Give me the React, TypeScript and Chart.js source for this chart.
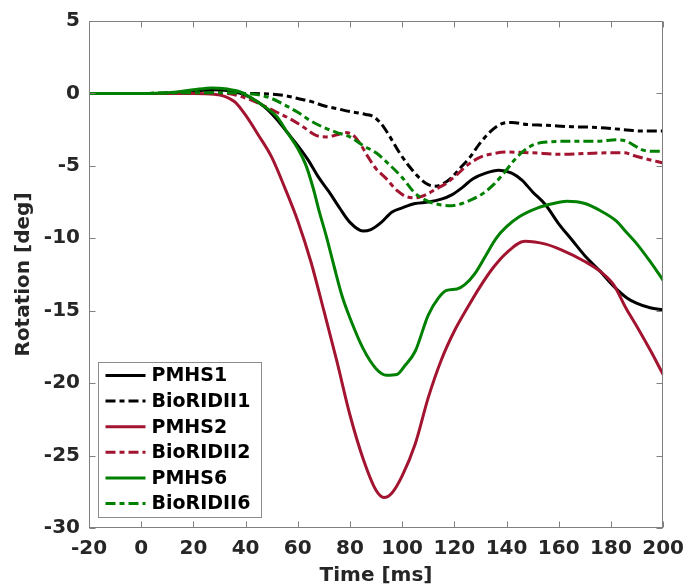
import React, { useEffect, useRef } from "react";
import { Chart, registerables } from "chart.js";

Chart.register(...registerables);

// ---- data ----
const seriesNames = ["PMHS1", "BioRIDII1", "PMHS2", "BioRIDII2", "PMHS6", "BioRIDII6"];

const tPMHS1 = [-20, 0, 10, 20, 27, 33, 38, 42, 47, 52, 56, 60, 64, 68, 72, 76, 80, 85, 88, 92, 96, 100, 105, 110, 115, 119, 123, 127, 132, 137, 142, 146, 150, 155, 160, 165, 170, 176, 181, 186, 190, 195, 200];
const vPMHS1 = [0, 0, 0, 0.15, 0.25, 0.2, 0, -0.3, -0.9, -1.8, -2.7, -3.6, -4.6, -5.8, -6.8, -7.9, -8.9, -9.5, -9.4, -8.9, -8.2, -7.9, -7.6, -7.5, -7.3, -7.0, -6.5, -5.9, -5.5, -5.3, -5.5, -6.0, -6.8, -7.7, -9.0, -10.1, -11.2, -12.3, -13.3, -14.1, -14.5, -14.8, -14.95];

const tBio1 = [-20, 0, 20, 30, 40, 50, 55, 60, 65, 70, 75, 80, 86, 89, 92, 95, 99, 103, 107, 110, 113, 116, 119, 122, 126, 130, 134, 138, 142, 148, 155, 165, 175, 185, 192, 200];
const vBio1 = [0, 0, 0.05, 0.05, 0, -0.05, -0.15, -0.35, -0.55, -0.85, -1.05, -1.25, -1.45, -1.6, -2.1, -2.9, -4.1, -5.1, -5.9, -6.3, -6.4, -6.2, -5.8, -5.2, -4.4, -3.4, -2.6, -2.1, -2.0, -2.15, -2.2, -2.3, -2.35, -2.5, -2.6, -2.6];

const tPMHS2 = [-20, 0, 20, 28, 32, 36, 40, 45, 50, 55, 60, 65, 70, 75, 80, 85, 90, 93, 96, 100, 105, 110, 115, 120, 125, 130, 135, 140, 147, 155, 161, 170, 176, 181, 186, 190, 195, 200];
const vPMHS2 = [0, 0, 0, -0.05, -0.2, -0.6, -1.5, -2.9, -4.4, -6.5, -8.8, -11.6, -15, -18.5, -22.2, -25.2, -27.4, -27.9, -27.6, -26.4, -24.2, -21, -18.4, -16.4, -14.8, -13.3, -12, -11, -10.2, -10.4, -10.8, -11.6, -12.3, -13.2, -14.9, -16.1, -17.7, -19.4];

const tBio2 = [-20, 0, 20, 30, 35, 38, 42, 47, 52, 57, 62, 67, 71, 75, 78, 81, 84, 87, 90, 94, 98, 102, 105, 109, 113, 117, 121, 125, 130, 135, 140, 150, 160, 170, 180, 185, 189, 193, 200];
const vBio2 = [0, 0, 0, 0, -0.05, -0.2, -0.45, -0.85, -1.3, -1.75, -2.3, -2.9, -3.0, -2.85, -2.7, -2.85, -3.5, -4.4, -5.2, -5.9, -6.7, -7.15, -7.2, -7.0, -6.6, -6.2, -5.6, -4.95, -4.4, -4.15, -4.05, -4.1, -4.2, -4.15, -4.1, -4.1, -4.3, -4.5, -4.8];

const tPMHS6 = [-20, 0, 10, 20, 27, 33, 38, 43, 48, 52, 56, 60, 63, 66, 68, 71, 74, 77, 80, 85, 90, 94, 98, 101, 105, 110, 114, 117, 121, 124, 128, 132, 136, 140, 145, 152, 158, 163, 170, 176, 182, 186, 190, 195, 200];
const vPMHS6 = [0, 0, 0.05, 0.25, 0.38, 0.3, 0.1, -0.4, -1.0, -1.6, -2.7, -3.8, -4.9, -6.6, -8.0, -9.9, -12, -14, -15.5, -17.6, -19, -19.45, -19.4, -18.8, -17.8, -15.3, -14.1, -13.6, -13.5, -13.2, -12.4, -11.2, -10, -9.2, -8.5, -7.9, -7.6, -7.45, -7.6, -8.1, -8.8, -9.6, -10.4, -11.6, -12.9];

const tBio6 = [-20, 0, 20, 30, 40, 45, 50, 55, 60, 65, 70, 75, 80, 85, 90, 95, 100, 105, 110, 115, 119, 123, 127, 131, 135, 139, 143, 147, 151, 156, 165, 175, 182, 186, 189, 192, 196, 200];
const vBio6 = [0, 0, 0.05, 0.05, 0, -0.1, -0.35, -0.8, -1.3, -1.9, -2.35, -2.7, -3.0, -3.6, -4.1, -4.9, -5.8, -6.9, -7.45, -7.7, -7.75, -7.6, -7.3, -6.9, -6.3, -5.5, -4.6, -3.9, -3.5, -3.35, -3.3, -3.3, -3.2, -3.3, -3.6, -3.9, -4.0, -4.0];

const xTickValues = [-20, 0, 20, 40, 60, 80, 100, 120, 140, 160, 180, 200];
const yTickValues = [5, 0, -5, -10, -15, -20, -25, -30];

const xTitle = "Time [ms]";
const yTitle = "Rotation [deg]";

// ---- styles ----
const BLACK = "#000000";
const RED = "#A2142F";
const GREEN = "#008000";
const AXIS = "#808080";
const TEXT = "#262626";
const FONT = "'DejaVu Sans', sans-serif";
const DASH = [10, 4, 5, 4];

const times = [tPMHS1, tBio1, tPMHS2, tBio2, tPMHS6, tBio6];
const values = [vPMHS1, vBio1, vPMHS2, vBio2, vPMHS6, vBio6];
const colors = [BLACK, BLACK, RED, RED, GREEN, GREEN];
const dashed = [false, true, false, true, false, true];

const boxPlugin = {
  id: "matlabBox",
  afterDatasetsDraw(chart: any) {
    const { ctx, chartArea: a, scales } = chart;
    const L = 6;
    const left = Math.round(a.left) + 0.5;
    const right = Math.round(a.right) - 0.5;
    const top = Math.round(a.top) + 0.5;
    const bottom = Math.round(a.bottom) - 0.5;
    ctx.save();
    ctx.strokeStyle = AXIS;
    ctx.lineWidth = 1;
    ctx.setLineDash([]);
    ctx.beginPath();
    scales.x.ticks.forEach((t: any) => {
      const px = Math.round(scales.x.getPixelForValue(t.value)) + 0.5;
      ctx.moveTo(px, bottom);
      ctx.lineTo(px, bottom - L);
      ctx.moveTo(px, top);
      ctx.lineTo(px, top + L);
    });
    scales.y.ticks.forEach((t: any) => {
      const py = Math.round(scales.y.getPixelForValue(t.value)) + 0.5;
      ctx.moveTo(left, py);
      ctx.lineTo(left + L, py);
      ctx.moveTo(right, py);
      ctx.lineTo(right - L, py);
    });
    ctx.stroke();
    ctx.strokeRect(left, top, right - left, bottom - top);
    ctx.restore();
  },
};

const legendPlugin = {
  id: "insideLegend",
  afterDraw(chart: any) {
    const { ctx, chartArea: a } = chart;
    const ds = chart.data.datasets;
    const rowH = 25.6;
    const boxL = Math.round(a.left) + 9.5;
    const boxW = 163;
    const boxH = 155;
    const boxT = Math.round(a.bottom) - 11 - boxH + 0.5;
    ctx.save();
    ctx.fillStyle = "#ffffff";
    ctx.fillRect(boxL, boxT, boxW, boxH);
    ctx.strokeStyle = "#8c8c8c";
    ctx.lineWidth = 1;
    ctx.strokeRect(boxL, boxT, boxW, boxH);
    ctx.font = `bold 19px ${FONT}`;
    ctx.textBaseline = "middle";
    ctx.textAlign = "left";
    ds.forEach((d: any, i: number) => {
      const cy = boxT + 13 + i * rowH;
      ctx.strokeStyle = d.borderColor;
      ctx.lineWidth = d.borderWidth;
      ctx.setLineDash(d.borderDash || []);
      ctx.beginPath();
      ctx.moveTo(boxL + 7, cy);
      ctx.lineTo(boxL + 47, cy);
      ctx.stroke();
      ctx.setLineDash([]);
      ctx.fillStyle = "#000000";
      ctx.fillText(d.label, boxL + 53, cy + 1);
    });
    ctx.restore();
  },
};

export default function App() {
  const canvasRef = useRef<HTMLCanvasElement | null>(null);

  useEffect(() => {
    document.body.style.margin = "0";
    const canvas = canvasRef.current;
    if (!canvas) return;
    const datasets = seriesNames.map((name, i) => ({
      label: name,
      data: times[i].map((t, k) => ({ x: t, y: values[i][k] })),
      borderColor: colors[i],
      backgroundColor: colors[i],
      borderWidth: 3,
      borderDash: dashed[i] ? DASH : [],
      pointRadius: 0,
      fill: false,
      cubicInterpolationMode: "monotone" as const,
      order: 6 - i,
    }));

    const chart = new Chart(canvas, {
      type: "line",
      data: { datasets },
      plugins: [boxPlugin, legendPlugin],
      options: {
        animation: false,
        responsive: false,
        devicePixelRatio: 1,
        layout: { padding: { left: 0, top: 17, right: 23, bottom: 0 } },
        plugins: {
          legend: { display: false },
          tooltip: { enabled: false },
        },
        scales: {
          x: {
            type: "linear",
            min: -20,
            max: 200,
            afterBuildTicks: (s: any) => {
              s.ticks = xTickValues.map((v) => ({ value: v }));
            },
            afterFit: (s: any) => {
              s.height = 60;
            },
            grid: { display: false, drawTicks: false },
            border: { display: false },
            ticks: {
              color: TEXT,
              font: { family: FONT, size: 20, weight: "bold" },
              padding: 9,
              maxRotation: 0,
              autoSkip: false,
            },
            title: {
              display: true,
              text: xTitle,
              color: TEXT,
              font: { family: FONT, size: 20, weight: "bold" },
              padding: { top: 0, bottom: 0 },
            },
          },
          y: {
            type: "linear",
            min: -30,
            max: 5,
            afterBuildTicks: (s: any) => {
              s.ticks = yTickValues.map((v) => ({ value: v }));
            },
            afterFit: (s: any) => {
              s.width = 89;
            },
            grid: { display: false, drawTicks: false },
            border: { display: false },
            ticks: {
              color: TEXT,
              font: { family: FONT, size: 20, weight: "bold" },
              padding: 9,
              autoSkip: false,
            },
            title: {
              display: true,
              text: yTitle,
              color: TEXT,
              font: { family: FONT, size: 20, weight: "bold" },
              padding: { top: 12, bottom: 0 },
            },
          },
        },
      },
    });
    return () => chart.destroy();
  }, []);

  return (
    <div style={{ width: 693, height: 588, background: "#ffffff" }}>
      <canvas ref={canvasRef} width={693} height={588} style={{ display: "block" }} />
    </div>
  );
}
